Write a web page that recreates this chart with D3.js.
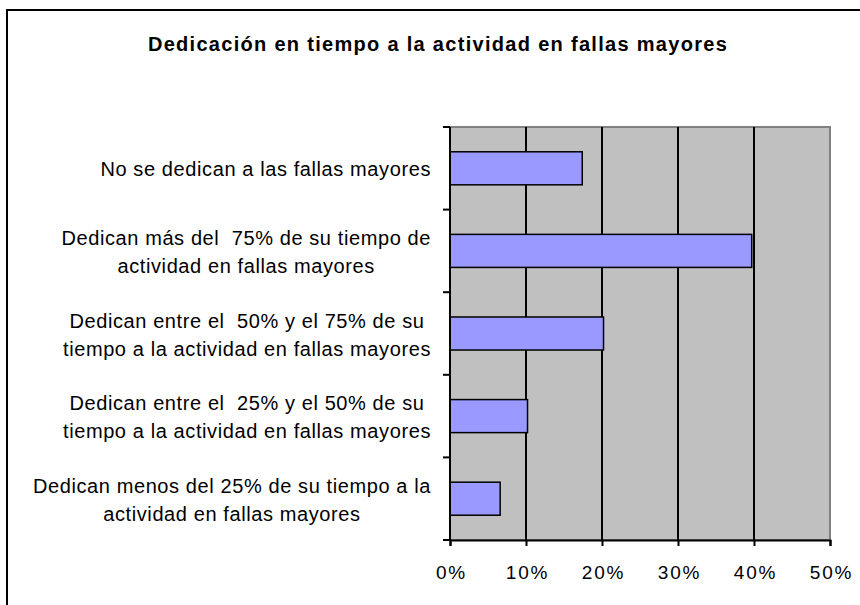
<!DOCTYPE html>
<html><head><meta charset="utf-8">
<script src="https://cdn.jsdelivr.net/npm/d3@7"></script>
<style>body{margin:0;background:#fff}svg{display:block}text{font-family:"Liberation Sans",Arial,sans-serif;white-space:pre}</style>
</head><body>
<svg id="c" width="860" height="605"></svg>
<script>
const title = "Dedicación en tiempo a la actividad en fallas mayores";
const categories = [
  ["No se dedican a las fallas mayores"],
  ["Dedican más del  75% de su tiempo de", "actividad en fallas mayores"],
  ["Dedican entre el  50% y el 75% de su", "tiempo a la actividad en fallas mayores"],
  ["Dedican entre el  25% y el 50% de su", "tiempo a la actividad en fallas mayores"],
  ["Dedican menos del 25% de su tiempo a la", "actividad en fallas mayores"]
];
const values = [17.4, 39.7, 20.2, 10.2, 6.6];
const xTicks = [0, 10, 20, 30, 40, 50];

const svg = d3.select("#c");
const L = 450, R = 830, T = 127, B = 540;

// outer frame
svg.append("rect").attr("x", 7).attr("y", 10).attr("width", 870).attr("height", 620)
  .attr("fill", "#fff").attr("stroke", "#000").attr("stroke-width", 2);

svg.append("text").attr("x", 438).attr("y", 51).attr("text-anchor", "middle")
  .attr("font-weight", "bold").attr("font-size", 20).attr("letter-spacing", 1.3).text(title);

const x = d3.scaleLinear().domain([0, 50]).range([L, R]);
const idx = categories.map((d, i) => i);
const y = d3.scaleBand().domain(idx).range([T, B]).paddingInner(0.6).paddingOuter(0.3);

// plot background
svg.append("rect").attr("x", L).attr("y", T).attr("width", R - L).attr("height", B - T)
  .attr("fill", "#C0C0C0").attr("stroke", "#808080").attr("stroke-width", 2);

// grid
svg.append("g").selectAll("line").data(xTicks.filter(t => t > 0 && t < 50)).join("line")
  .attr("x1", d => x(d)).attr("x2", d => x(d)).attr("y1", T).attr("y2", B)
  .attr("stroke", "#000").attr("stroke-width", 2);

// bars
svg.append("g").selectAll("rect").data(values).join("rect")
  .attr("x", x(0)).attr("y", (d, i) => y(i)).attr("width", d => x(d) - x(0)).attr("height", y.bandwidth())
  .attr("fill", "#9999FF").attr("stroke", "#000").attr("stroke-width", 1.5);

// x axis
const xa = svg.append("g").attr("transform", `translate(0,${B})`)
  .call(d3.axisBottom(x).tickValues(xTicks).tickFormat(d => d + "%").tickSize(6).tickPadding(20));
xa.select(".domain").attr("stroke-width", 2);
xa.selectAll(".tick line").attr("stroke-width", 2);
xa.selectAll("text").attr("font-size", 19).attr("letter-spacing", 1.8).attr("dx", 1)
  .attr("font-family", "Liberation Sans, Arial, sans-serif").attr("fill", "#000");

// y axis line and ticks at band boundaries
const step = y.step();
const bounds = d3.range(categories.length + 1).map(i => T + i * step);
svg.append("line").attr("x1", L).attr("x2", L).attr("y1", T).attr("y2", B).attr("stroke", "#000").attr("stroke-width", 2);
svg.append("g").selectAll("line").data(bounds).join("line")
  .attr("x1", L - 7).attr("x2", L).attr("y1", d => d).attr("y2", d => d).attr("stroke", "#000").attr("stroke-width", 2);

// labels
const lh = 28;
categories.forEach((lines, i) => {
  const cy = y(i) + y.bandwidth() / 2;
  const g = svg.append("g");
  const texts = lines.map((s, k) => g.append("text").attr("font-size", 20).attr("letter-spacing", 0.6)
    .attr("text-anchor", "middle")
    .attr("y", cy + (k - (lines.length - 1) / 2) * lh + 8).text(s));
  const w = d3.max(texts, t => t.node().getComputedTextLength());
  texts.forEach(t => t.attr("x", 431 - w / 2));
});
</script>
</body></html>
